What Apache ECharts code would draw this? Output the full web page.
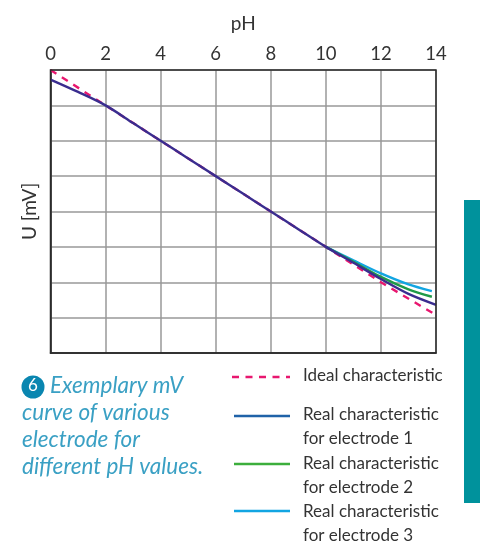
<!DOCTYPE html>
<html><head><meta charset="utf-8">
<style>html,body{margin:0;padding:0;background:#fff}#c{width:480px;height:545px}</style>
<script src="https://cdn.jsdelivr.net/npm/echarts@6/dist/echarts.min.js"></script>
</head><body><div id="c"></div>
<script>
const xTicks = [0,2,4,6,8,10,12,14];
const ideal = [[0,8],[2,7],[4,6],[6,5],[8,4],[10,3],[12,2],[13.9,1.12]];
const electrode1 = [[0,7.73],[1,7.38],[2,7],[3,6.5],[4,6],[5,5.5],[6,5],[7,4.5],[8,4],[9,3.5],[10,3],[11,2.55],[12,2.09],[13,1.67],[14,1.36]];
const electrode2 = [[10,3],[11,2.58],[12,2.15],[13,1.8],[13.85,1.59]];
const electrode3 = [[10,3],[11,2.62],[12,2.25],[13,1.94],[13.85,1.75]];
const legendLabels = [["Ideal characteristic"],["Real characteristic","for electrode 1"],["Real characteristic","for electrode 2"],["Real characteristic","for electrode 3"]];
const captionLines = ["Exemplary mV","curve of various","electrode for","different pH values."];

const FONT='Lato, "Open Sans", sans-serif', DARK='#333333', CAP='#3aa0c4';
const txt=(x,y,t,o={})=>({type:'text',left:x,top:y,style:Object.assign({text:t,fontFamily:FONT,fontSize:17,fill:DARK},o)});
const line=(x1,x2,y,c,dash)=>({type:'line',shape:{x1,y1:y,x2,y2:y},style:{stroke:c,lineWidth:2.4,lineDash:dash||null}});
const cap={fontStyle:'italic',fill:CAP,fontSize:22.5};
const g=[
  {type:'rect',shape:{x:464,y:200,width:16,height:303},style:{fill:'#00929c'}},
  {type:'text',rotation:Math.PI/2,x:20,y:240,style:{text:'U [mV]',fontFamily:FONT,fontSize:19,fill:DARK}},
  {type:'circle',shape:{cx:33,cy:387,r:11.5},style:{fill:'#0a86b0'}},
  {type:'text',left:28,top:377,style:{text:'6',fontFamily:FONT,fontSize:17,fill:'#fff'}},
  txt(50,374,captionLines[0],cap),
  txt(22,401,captionLines[1],cap),
  txt(22,428,captionLines[2],cap),
  txt(22,455,captionLines[3],cap),
  line(232,290,377,'#e8176f',[7,6.5]),
  line(234,290,416,'#1f62a8'),
  line(234,290,464,'#3cae3c'),
  line(234,290,511,'#12a5e2'),
  txt(303,367,legendLabels[0][0]),
  txt(303,406,legendLabels[1][0]),txt(303,430,legendLabels[1][1]),
  txt(303,455,legendLabels[2][0]),txt(303,479,legendLabels[2][1]),
  txt(303,503,legendLabels[3][0]),txt(303,527,legendLabels[3][1])
];
const s=(name,data,color,extra={})=>Object.assign({name,type:'line',data,showSymbol:false,smooth:0.3,
  lineStyle:{color,width:2.4},itemStyle:{color},z:3},extra);
const chart=echarts.init(document.getElementById('c'),null,{renderer:'canvas'});
chart.setOption({
  animation:false,
  grid:{left:50.5,right:44,top:70,bottom:192,show:true,borderColor:'#2b2b2b',borderWidth:1.5,backgroundColor:'transparent',containLabel:false,z:5},
  xAxis:{type:'value',position:'top',min:0,max:14,interval:2,name:'pH',nameLocation:'middle',nameGap:37,
    nameTextStyle:{fontFamily:FONT,fontSize:19,color:DARK},
    axisLine:{show:true,lineStyle:{color:'#2b2b2b',width:1.5}},axisTick:{show:false},
    axisLabel:{fontFamily:FONT,fontSize:18.5,color:DARK,margin:6,hideOverlap:false,showMinLabel:true,showMaxLabel:true,
      alignMinLabel:'center',alignMaxLabel:'center',formatter:v=>xTicks.includes(v)?String(v):''},
    splitLine:{show:true,lineStyle:{color:'#999',width:1.5}}},
  yAxis:{type:'value',min:0,max:8,interval:1,
    axisLine:{show:true,lineStyle:{color:'#2b2b2b',width:1.5}},axisTick:{show:false},axisLabel:{show:false},
    splitLine:{show:true,lineStyle:{color:'#999',width:1.5}}},
  series:[
    s('Ideal characteristic',ideal,'#e8176f',{smooth:false,lineStyle:{color:'#e8176f',width:2.4,type:[7,6.5]}}),
    s('Real characteristic for electrode 3',electrode3,'#12a5e2'),
    s('Real characteristic for electrode 2',electrode2,'#1f9a48'),
    s('Real characteristic for electrode 1',electrode1,'#3a2d8f',{z:4})
  ],
  graphic:{elements:g}
});
</script></body></html>
